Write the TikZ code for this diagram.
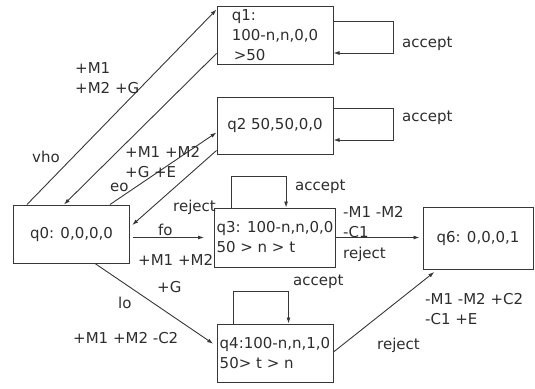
\documentclass[tikz,border=0pt]{standalone}
\usepackage{fontspec}
\setmainfont{DejaVu Sans}
\usetikzlibrary{arrows.meta}
\definecolor{linegray}{RGB}{55,55,55}
\definecolor{textgray}{RGB}{45,45,45}
\tikzset{
  state/.style={draw=linegray, line width=1pt, minimum width=116pt,
    minimum height=58pt, inner sep=2pt, align=left, text=textgray,
    font=\fontsize{15}{20}\selectfont},
  lbl/.style={inner sep=0pt, anchor=west, align=left, text=textgray,
    font=\fontsize{15}{20}\selectfont},
  edge/.style={->, draw=linegray, line width=0.9pt}
}
\begin{document}
\begin{tikzpicture}[x=1pt, y=-1pt, >={Latex[width=4pt,length=6pt]}]
\useasboundingbox (0,0) rectangle (535,388);

% states
\node [state] (q0) at (71.5,234) {q0: 0,0,0,0};
\node [state] (q1) at (275,35) {q1:\\100-n,n,0,0\\\hspace{2pt}>50};
\node [state, minimum height=57pt] (q2) at (275,125.5) {q2 50,50,0,0};
\node [state, minimum height=59pt] (q3) at (275,237.5) {q3: 100-n,n,0,0\\50 > n > t};
\node [state] (q4) at (275,353) {q4:100-n,n,1,0\\50> t > n};
\node [state, minimum width=110pt, minimum height=62pt] (q6) at (478,238) {q6: 0,0,0,1};

% transitions
\draw[edge] ([xshift=14pt]q0.north west) -- ([yshift=-4pt]q1.north west);
\draw[edge] ([yshift=11pt]q1.south west) -- ([xshift=51pt]q0.north west);
\draw[edge] ([xshift=97pt]q0.north west) -- ([yshift=-7pt]q2.west);
\draw[edge, shorten >=3pt] ([yshift=4pt]q2.south west) -- ([yshift=7pt]q0.east);
\draw[edge, shorten <=3pt, shorten >=10pt] (q0.east |- q3.west) -- (q3.west);
\draw[edge, shorten >=4pt] ([xshift=82pt]q0.south west) -- ([yshift=7pt]q4.west);
\draw[edge, shorten >=3pt] (q3.east) -- (q3.east -| q6.west);
\draw[edge, shorten >=4pt] ([yshift=1pt]q4.east) -- ([xshift=15pt]q6.south west);

% self loops
\draw[edge] ([yshift=14pt]q1.east) -- ++(60,0) |- ([yshift=-18pt]q1.east);
\draw[edge] ([yshift=17.5pt]q2.east) -- ++(60,0) |- ([yshift=-14.5pt]q2.east);
\draw[edge] ([xshift=17pt]q3.north west) -- ++(0,-31) -| ([xshift=72pt]q3.north west);
\draw[edge] ([xshift=17pt]q4.north west) -- ++(0,-32) -| ([xshift=72pt]q4.north west);

% labels
\node [lbl] (acc1) at (402,44) {accept};
\node [lbl] (acc2) at (402,118) {accept};
\node [lbl] (acc3) at (295,187) {accept};
\node [lbl] (acc4) at (293,282) {accept};

\node [lbl] (vho) at (32,157) {vho};
\node [lbl] (vhoact) at (75,78) {+M1\\+M2 +G};
\node [lbl] (eo) at (110,187) {eo};
\node [lbl] (eoact) at (125,162) {+M1 +M2\\+G +E};
\node [lbl] (rej2) at (173,207) {reject};
\node [lbl] (fo) at (158,230) {fo};
\node [lbl] (foact) at (138,260) {+M1 +M2};
\node [lbl] (foact2) at (157,287) {+G};
\node [lbl] (lo) at (118,303) {lo};
\node [lbl] (loact) at (73,338) {+M1 +M2 -C2};

\node [lbl] (rej3act) at (343,222) {-M1 -M2\\-C1};
\node [lbl] (rej3) at (343,254) {reject};
\node [lbl] (rej4act) at (425,309) {-M1 -M2 +C2\\-C1 +E};
\node [lbl] (rej4) at (377,345) {reject};
\end{tikzpicture}
\end{document}
